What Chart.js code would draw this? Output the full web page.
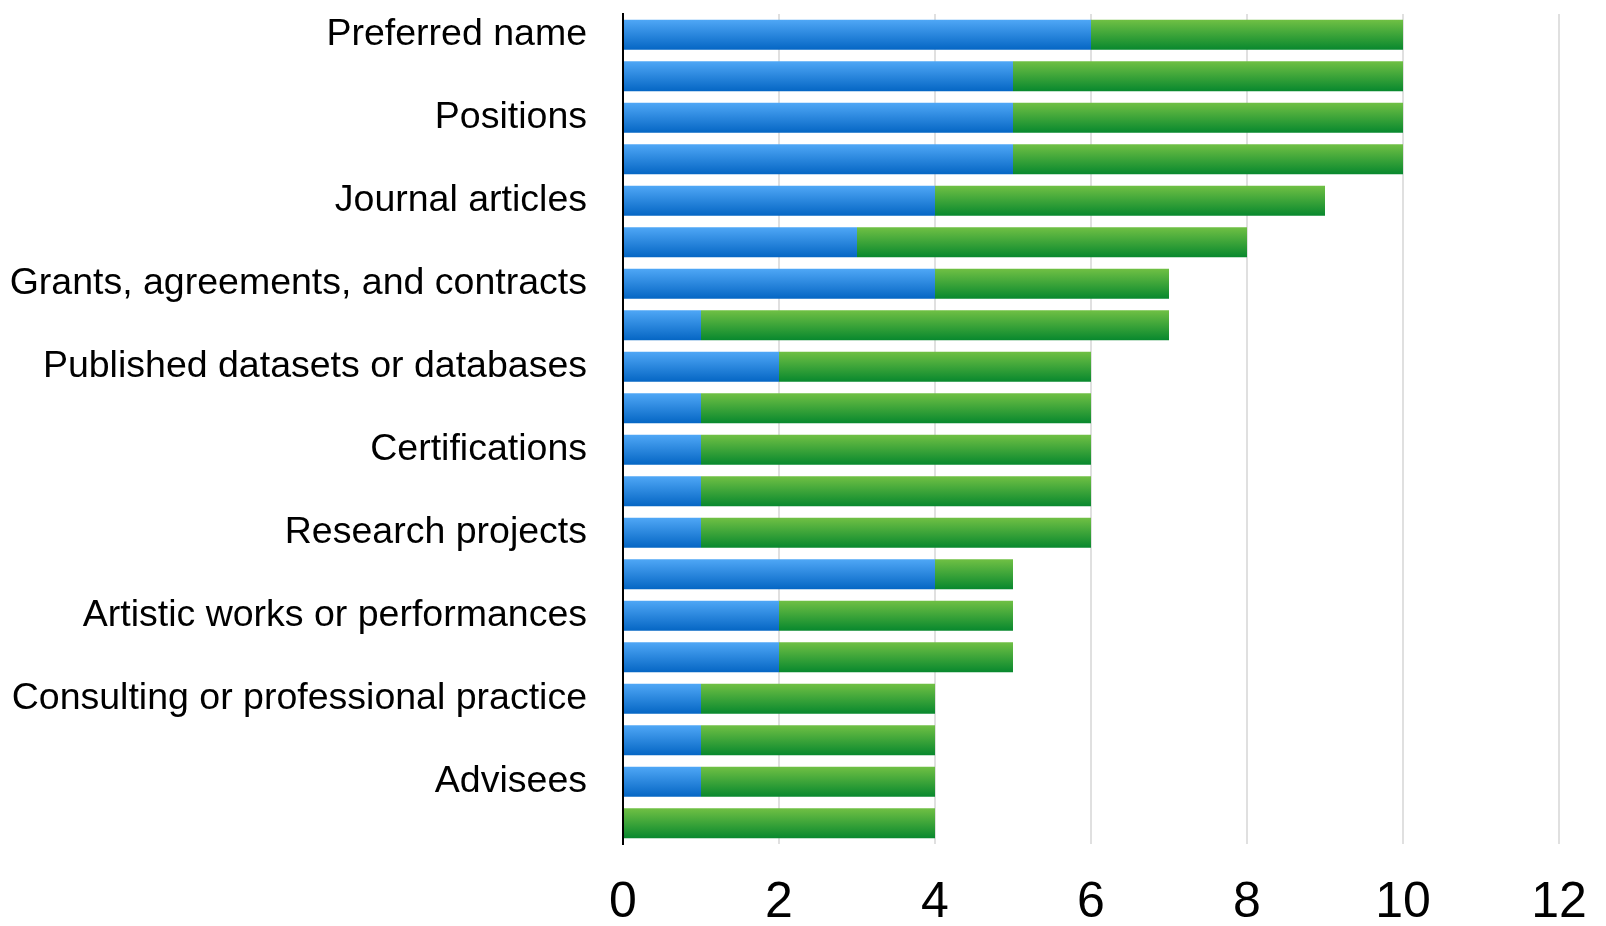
<!DOCTYPE html>
<html>
<head>
<meta charset="utf-8">
<script src="https://cdn.jsdelivr.net/npm/chart.js@4/dist/chart.umd.min.js"></script>
<style>
  html, body { margin: 0; padding: 0; background: #fff; }
  #wrap { width: 1606px; height: 926px; position: relative; }
</style>
</head>
<body>
<div id="wrap"><canvas id="chart"></canvas></div>
<script>
// categories (only every second row carries a label in the picture)
const categories = [
  'Preferred name', '',
  'Positions', '',
  'Journal articles', '',
  'Grants, agreements, and contracts', '',
  'Published datasets or databases', '',
  'Certifications', '',
  'Research projects', '',
  'Artistic works or performances', '',
  'Consulting or professional practice', '',
  'Advisees', ''
];

// blue part of each bar
const blueValues = [6, 5, 5, 5, 4, 3, 4, 1, 2, 1, 1, 1, 1, 4, 2, 2, 1, 1, 1, 0];
// green part of each bar (stacked on the blue)
const greenValues = [4, 5, 5, 5, 5, 5, 3, 6, 4, 5, 5, 5, 5, 1, 3, 3, 3, 3, 3, 4];

const xTicks = [0, 2, 4, 6, 8, 10, 12];

// vertical gradient per bar, light on top, dark at the bottom
function barGradient(top, bottom) {
  return function(ctx) {
    const chart = ctx.chart;
    const y = chart.scales.y;
    if (!y || ctx.dataIndex === undefined) return bottom;
    const mid = y.getPixelForValue(ctx.dataIndex);
    if (!isFinite(mid)) return bottom;
    const half = 15;
    const g = chart.ctx.createLinearGradient(0, mid - half, 0, mid + half);
    g.addColorStop(0, top);
    g.addColorStop(1, bottom);
    return g;
  };
}

const ctx = document.getElementById('chart').getContext('2d');
const chart = new Chart(ctx, {
  type: 'bar',
  data: {
    labels: categories,
    datasets: [{
      label: 'blue',
      data: blueValues,
      backgroundColor: barGradient('#4fa7f6', '#0566c4'),
      borderWidth: 0,
      categoryPercentage: 1,
      barPercentage: 0.72
    }, {
      label: 'green',
      data: greenValues,
      backgroundColor: barGradient('#70c044', '#08882e'),
      borderWidth: 0,
      categoryPercentage: 1,
      barPercentage: 0.72
    }]
  },
  options: {
    indexAxis: 'y',
    responsive: true,
    maintainAspectRatio: false,
    animation: false,
    layout: { padding: { top: 14, right: 47, left: 0, bottom: 0 } },
    plugins: {
      legend: { display: false },
      tooltip: { enabled: false }
    },
    scales: {
      x: {
        stacked: true,
        min: 0,
        max: 12,
        afterBuildTicks: scale => {
          scale.ticks = xTicks.map(v => ({ value: v }));
        },
        afterFit: scale => {
          scale.height = 82;
          scale.paddingLeft = 0;
          scale.paddingRight = 0;
        },
        grid: {
          color: '#e0e0e0',
          lineWidth: 2,
          drawTicks: false
        },
        border: { display: false },
        ticks: {
          color: '#000',
          padding: 29,
          font: { family: '"Liberation Sans", Arial, sans-serif', size: 50 }
        }
      },
      y: {
        stacked: true,
        afterFit: scale => {
          scale.width = 623;
          scale.paddingTop = 0;
          scale.paddingBottom = 0;
        },
        grid: { display: false, drawTicks: false },
        border: { display: true, color: '#000', width: 2 },
        ticks: {
          autoSkip: false,
          color: '#000',
          padding: 36,
          font: { family: '"Liberation Sans", Arial, sans-serif', size: 37.5 }
        }
      }
    }
  }
});
</script>
</body>
</html>
